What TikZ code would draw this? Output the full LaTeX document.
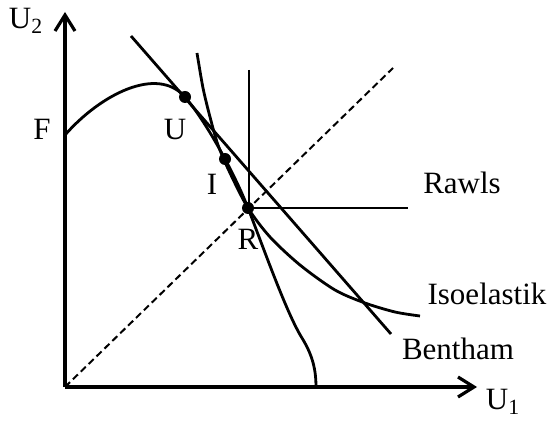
\documentclass[tikz,border=0pt]{standalone}
\usepackage{fontspec}
\setmainfont{Liberation Serif}
\usetikzlibrary{arrows.meta}

\begin{document}
\begin{tikzpicture}[x=0.5pt,y=-0.5pt,>={Straight Barb[length=8pt,width=10pt]},line width=1.3pt]
\tikzset{
  axis/.style={->, line width=1.6pt},
  curve/.style={line width=1.4pt},
  lbl/.style={font=\fontsize{15.5}{18}\selectfont, inner sep=0pt},
  pt/.style={circle, fill, inner sep=0pt, minimum size=6pt}
}
\useasboundingbox (0,0) rectangle (549,421);

% Axes
\coordinate (O) at (65,387);
\coordinate (ytop) at (65,12);
\coordinate (xend) at (477,387);
\draw[axis] (O) -- (ytop);
\draw[axis] (O) -- (xend);
\node[lbl] (u2) at (26,21) {U\textsubscript{2}};
\node[lbl] (u1) at (503,402) {U\textsubscript{1}};

% 45 degree line
\coordinate (diag) at (393,68);
\draw[line width=1pt, dash pattern=on 3.5pt off 2pt] (O) -- (diag);

% Points
\node[pt] (U) at (185,97) {};
\node[pt] (I) at (225,159) {};
\node[pt] (R) at (248,208) {};

% Utility frontier
\coordinate (F) at (65,135);
\coordinate (fend) at (316,388);
\draw[curve] (F) .. controls (100,95) and (157,65) .. (U.center)
  .. controls (205,120) and (234,172) .. (R.center)
  .. controls (265,252) and (287,314) .. (302,338)
  .. controls (313,356) and (316,370) .. (fend);

% Bentham
\coordinate (b1) at (131,36);
\coordinate (b2) at (391,334);
\draw[curve] (b1) -- (b2);

% Isoelastic
\draw[curve] plot[smooth] coordinates {(197,53) (203,88) (210,117) (218,145) (230,173) (R)
  (270,237) (300,265) (335,290) (365,303) (395,312) (420,316)};

% Rawls
\coordinate (r1) at (249,70);
\coordinate (r2) at (408,208);
\draw[curve] (r1) -- (249,208) -- (r2);

% Labels
\node[lbl] (lF) at (42,129) {F};
\node[lbl] (lU) at (175,130) {U};
\node[lbl] (lI) at (212,184) {I};
\node[lbl] (lR) at (248,239) {R};
\node[lbl] (lrawls) at (462,183) {Rawls};
\node[lbl] (liso) at (487,294) {Isoelastik};
\node[lbl] (lbent) at (458,349) {Bentham};
\end{tikzpicture}
\end{document}
